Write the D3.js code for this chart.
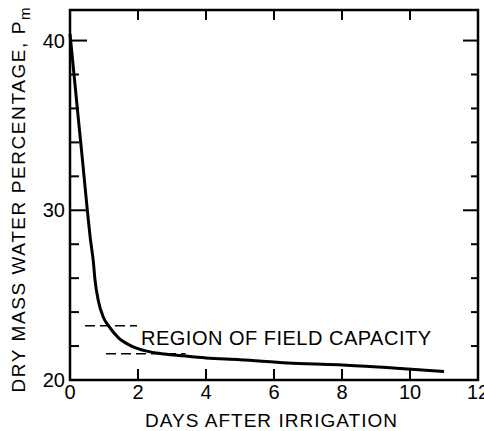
<!DOCTYPE html>
<html>
<head>
<meta charset="utf-8">
<script src="https://cdn.jsdelivr.net/npm/d3@7"></script>
<style>
  body { margin: 0; background: #fff; }
  svg { display: block; font-family: "Liberation Sans", Arial, Helvetica, sans-serif; }
</style>
</head>
<body>
<svg id="chart" width="484" height="431"></svg>
<script>
// curve
let days = [0, 0.25, 0.37, 0.51, 0.6, 0.685, 0.735, 0.83, 0.98, 1.13, 1.42, 1.81, 2.26, 2.7, 3.2, 4.0, 5.0, 6.4, 7.9, 9.5, 11.0]
let water = [40.4, 35.3, 32.9, 30.0, 28.3, 27.0, 25.9, 24.7, 23.7, 23.2, 22.5, 22.0, 21.7, 21.55, 21.45, 21.3, 21.2, 21.0, 20.9, 20.7, 20.5]

// dashed lines marking the field capacity band
let bandLevels = [23.2, 21.55]
let bandStart = [0.44, 1.06]
let bandEnd = [1.97, 3.4]

let xTicks = [0, 2, 4, 6, 8, 10, 12]
let yMajor = [20, 30, 40]
let yMinor = [22, 24, 26, 28, 32, 34, 36, 38]

let plotVars = ({
    left: 70,
    right: 478,
    top: 10,
    bottom: 380
})

let svg = d3.select("#chart")

let xScale = d3.scaleLinear()
    .domain([0, 12])
    .range([plotVars.left, plotVars.right])

let yScale = d3.scaleLinear()
    .domain([20, 41.8])
    .range([plotVars.bottom, plotVars.top])

// frame
svg.append("rect")
    .attr("x", plotVars.left)
    .attr("y", plotVars.top)
    .attr("width", plotVars.right - plotVars.left)
    .attr("height", plotVars.bottom - plotVars.top)
    .attr("fill", "none")
    .attr("stroke", "#000")
    .attr("stroke-width", 2.5)

// ticks, all pointing inward
let inner = xTicks.filter(function (d) { return d > 0 && d < 12 })

svg.selectAll("xtickBottom")
    .data(inner)
    .enter()
    .append("line")
    .attr("x1", function (d) { return xScale(d) })
    .attr("x2", function (d) { return xScale(d) })
    .attr("y1", plotVars.bottom)
    .attr("y2", plotVars.bottom - 11)
    .attr("stroke", "#000")
    .attr("stroke-width", 2)

svg.selectAll("xtickTop")
    .data(inner)
    .enter()
    .append("line")
    .attr("x1", function (d) { return xScale(d) })
    .attr("x2", function (d) { return xScale(d) })
    .attr("y1", plotVars.top)
    .attr("y2", plotVars.top + 10)
    .attr("stroke", "#000")
    .attr("stroke-width", 2)

let yTickData = yMajor.filter(function (d) { return d > 20 }).map(function (d) { return { v: d, major: true } })
    .concat(yMinor.map(function (d) { return { v: d, major: false } }))

svg.selectAll("ytickLeft")
    .data(yTickData)
    .enter()
    .append("line")
    .attr("x1", plotVars.left)
    .attr("x2", function (d) { return plotVars.left + (d.major ? 17 : 9) })
    .attr("y1", function (d) { return yScale(d.v) })
    .attr("y2", function (d) { return yScale(d.v) })
    .attr("stroke", "#000")
    .attr("stroke-width", 2)

svg.selectAll("ytickRight")
    .data(yTickData)
    .enter()
    .append("line")
    .attr("x1", plotVars.right)
    .attr("x2", function (d) { return plotVars.right - (d.major ? 15 : 7) })
    .attr("y1", function (d) { return yScale(d.v) })
    .attr("y2", function (d) { return yScale(d.v) })
    .attr("stroke", "#000")
    .attr("stroke-width", 2)

// tick labels
svg.selectAll("xlabel")
    .data(xTicks)
    .enter()
    .append("text")
    .attr("x", function (d) { return xScale(d) })
    .attr("y", 399)
    .attr("text-anchor", "middle")
    .style("font-size", "20px")
    .text(function (d) { return d })

svg.selectAll("ylabel")
    .data(yMajor)
    .enter()
    .append("text")
    .attr("x", 65)
    .attr("y", function (d) { return yScale(d) })
    .attr("dy", "0.36em")
    .attr("text-anchor", "end")
    .style("font-size", "20px")
    .text(function (d) { return d })

// axis titles
svg.append("text")
    .attr("x", 271)
    .attr("y", 427)
    .attr("text-anchor", "middle")
    .attr("textLength", 252)
    .attr("lengthAdjust", "spacing")
    .style("font-size", "19px")
    .text("DAYS AFTER IRRIGATION")

let yTitle = svg.append("text")
    .attr("transform", "translate(25,200) rotate(-90)")
    .attr("text-anchor", "middle")
    .attr("textLength", 385)
    .attr("lengthAdjust", "spacing")
    .style("font-size", "19px")
yTitle.append("tspan").text("DRY MASS WATER PERCENTAGE, P")
yTitle.append("tspan").attr("dy", 5).style("font-size", "15px").text("m")

// field capacity band
svg.selectAll("bandLine")
    .data(bandLevels)
    .enter()
    .append("line")
    .attr("x1", function (d, i) { return xScale(bandStart[i]) })
    .attr("x2", function (d, i) { return xScale(bandEnd[i]) })
    .attr("y1", function (d) { return yScale(d) })
    .attr("y2", function (d) { return yScale(d) })
    .attr("stroke", "#000")
    .attr("stroke-width", 1.5)
    .attr("stroke-dasharray", "10,5")

svg.append("text")
    .attr("x", 141)
    .attr("y", 345)
    .attr("textLength", 290)
    .attr("lengthAdjust", "spacing")
    .style("font-size", "20px")
    .text("REGION OF FIELD CAPACITY")

// drying curve
let line = d3.line()
    .x(function (d) { return xScale(d[0]) })
    .y(function (d) { return yScale(d[1]) })
    .curve(d3.curveMonotoneX)

svg.append("path")
    .datum(days.map(function (d, i) { return [d, water[i]] }))
    .attr("d", line)
    .attr("fill", "none")
    .attr("stroke", "#000")
    .attr("stroke-width", 3)
</script>
</body>
</html>
